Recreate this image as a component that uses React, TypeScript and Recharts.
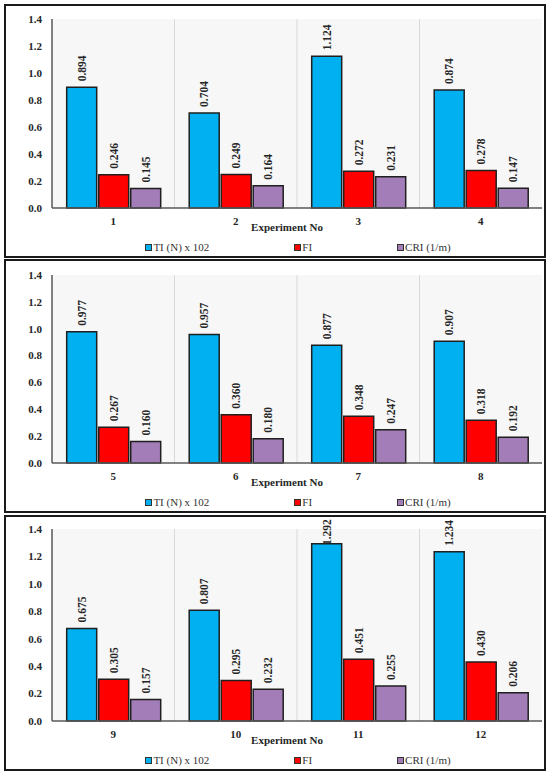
import { BarChart, Bar, XAxis, YAxis, CartesianGrid, Legend, LabelList } from "recharts";

const SERIF = "'Times New Roman', 'Liberation Serif', Times, 'DejaVu Serif', serif";

// experiment groups, one per panel
const experimentsA = ["1", "2", "3", "4"];
const tiA = [0.894, 0.704, 1.124, 0.874];
const fiA = [0.246, 0.249, 0.272, 0.278];
const criA = [0.145, 0.164, 0.231, 0.147];

const experimentsB = ["5", "6", "7", "8"];
const tiB = [0.977, 0.957, 0.877, 0.907];
const fiB = [0.267, 0.36, 0.348, 0.318];
const criB = [0.16, 0.18, 0.247, 0.192];

const experimentsC = ["9", "10", "11", "12"];
const tiC = [0.675, 0.807, 1.292, 1.234];
const fiC = [0.305, 0.295, 0.451, 0.43];
const criC = [0.157, 0.232, 0.255, 0.206];

const seriesKeys = ["ti", "fi", "cri"];
const seriesNames = ["TI (N) x 102", "FI", "CRI (1/m)"];
const seriesColors = ["#00B0F0", "#FF0000", "#A27DB7"];
const yTicks = [0, 0.2, 0.4, 0.6, 0.8, 1.0, 1.2, 1.4];

function buildRows(exps: string[], ti: number[], fi: number[], cri: number[]) {
  return exps.map((exp, i) => ({ exp, ti: ti[i], fi: fi[i], cri: cri[i] }));
}

const panels = [
  { rows: buildRows(experimentsA, tiA, fiA, criA), top: 4, height: 254, marginTop: 13 },
  { rows: buildRows(experimentsB, tiB, fiB, criB), top: 259, height: 254, marginTop: 14 },
  { rows: buildRows(experimentsC, tiC, fiC, criC), top: 515, height: 256, marginTop: 12 },
];

const CHART_W = 538;

function ValueLabel(props: any) {
  const { x, y, width, value } = props;
  const cx = Number(x) + Number(width) / 2;
  const textLen = 26;
  let anchor = Number(y) - 6;
  if (anchor - textLen < 2) anchor = 2 + textLen;
  return (
    <text
      x={cx}
      y={anchor}
      transform={`rotate(-90 ${cx} ${anchor})`}
      textAnchor="start"
      dy="0.35em"
      fontSize={11.5}
      fontWeight="bold"
      style={{ fontFamily: SERIF }}
      fill="#262626"
    >
      {Number(value).toFixed(3)}
    </text>
  );
}

function PanelLegend() {
  return (
    <div
      style={{
        width: CHART_W,
        boxSizing: "border-box",
        paddingLeft: 46,
        height: 18,
        display: "flex",
        justifyContent: "center",
        alignItems: "center",
        gap: 85,
        fontFamily: SERIF,
        fontSize: 11,
        color: "#333",
      }}
    >
      {seriesNames.map((name, i) => (
        <span key={name} style={{ display: "inline-flex", alignItems: "center" }}>
          <span
            style={{
              width: 5,
              height: 5,
              background: seriesColors[i],
              border: "1px solid #333",
              marginRight: 1,
            }}
          />
          {name}
        </span>
      ))}
    </div>
  );
}

function separators(props: any) {
  const off = props.offset || {};
  const left = off.left ?? 46;
  const width = off.width ?? CHART_W - 48;
  return [1, 2, 3].map((i) => left + (width * i) / 4);
}

const axisText = { fontSize: 11, fontWeight: "bold", fill: "#262626", style: { fontFamily: SERIF } };

function Panel({ rows, top, height, marginTop }: any) {
  return (
    <div
      style={{
        position: "absolute",
        left: 4,
        top,
        width: CHART_W + 4,
        height,
        boxSizing: "border-box",
        border: "2px solid #1a1a1a",
        background: "#fff",
      }}
    >
      <BarChart
        width={CHART_W}
        height={height - 4}
        data={rows}
        margin={{ top: marginTop, right: 2, left: 0, bottom: 0 }}
        barCategoryGap="12%"
        barGap={2}
        style={{ fontFamily: SERIF }}
      >
        <CartesianGrid
          horizontal={false}
          verticalCoordinatesGenerator={separators}
          stroke="#d9d9d9"
          fill="#f7f7f7"
          fillOpacity={1}
        />
        <XAxis
          dataKey="exp"
          height={30}
          tickSize={0}
          tickMargin={9}
          tickLine={false}
          axisLine={{ stroke: "#595959", strokeWidth: 1.5 }}
          tick={axisText}
          label={{
            value: "Experiment No",
            position: "insideBottom",
            offset: 7,
            dx: -10,
            ...axisText,
          }}
        />
        <XAxis
          xAxisId="top"
          dataKey="exp"
          orientation="top"
          height={0}
          tick={false}
          tickLine={false}
          axisLine={{ stroke: "#595959", strokeWidth: 1.5 }}
        />
        <YAxis
          width={46}
          domain={[0, 1.4]}
          ticks={yTicks}
          tickSize={0}
          tickMargin={10}
          tickLine={false}
          tickFormatter={(v: number) => v.toFixed(1)}
          axisLine={{ stroke: "#595959", strokeWidth: 1.5 }}
          tick={axisText}
        />
        <YAxis
          yAxisId="right"
          orientation="right"
          width={0}
          domain={[0, 1.4]}
          tick={false}
          tickLine={false}
          axisLine={{ stroke: "#595959", strokeWidth: 1.5 }}
        />
        <Legend
          verticalAlign="bottom"
          align="left"
          width={CHART_W}
          height={18}
          content={() => <PanelLegend />}
        />
        {seriesKeys.map((key, i) => (
          <Bar
            key={key}
            dataKey={key}
            name={seriesNames[i]}
            fill={seriesColors[i]}
            stroke="#1f1f1f"
            strokeWidth={1.5}
            isAnimationActive={false}
          >
            <LabelList dataKey={key} content={ValueLabel} />
          </Bar>
        ))}
      </BarChart>
    </div>
  );
}

export default function App() {
  return (
    <div
      style={{
        position: "absolute",
        left: 0,
        top: 0,
        width: 550,
        height: 775,
        background: "#fff",
        fontFamily: SERIF,
      }}
    >
      {panels.map((p, i) => (
        <Panel key={i} {...p} />
      ))}
    </div>
  );
}
